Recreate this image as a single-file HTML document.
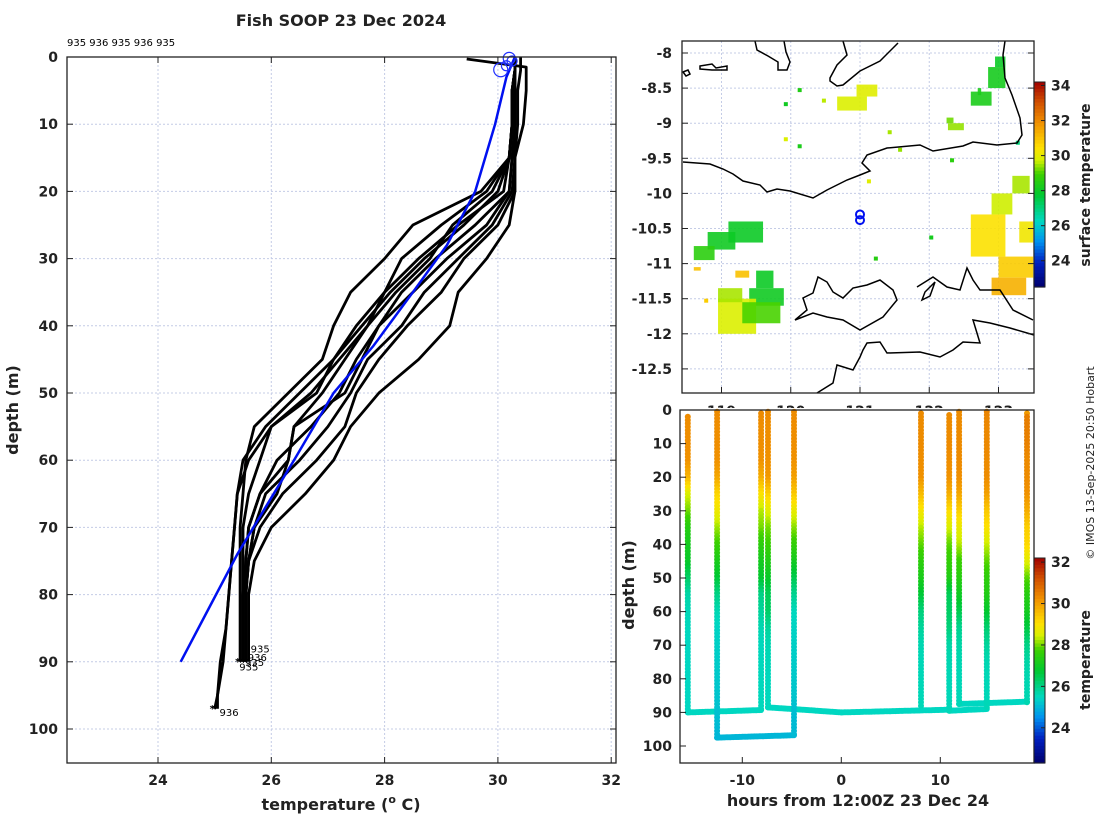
<!DOCTYPE html>
<html><head><meta charset="utf-8"><style>
html,body{margin:0;padding:0;background:#fff;}
svg{display:block;font-family:"DejaVu Sans","Liberation Sans",sans-serif;}
.tk{font-size:14px;font-weight:bold;fill:#222;}
.lb{font-size:16px;font-weight:bold;fill:#222;}
</style></head><body>
<svg id="fig" width="1100" height="820" viewBox="0 0 1100 820">
<g id="left"></g><g id="map"></g><g id="bot"></g><g id="cbars"></g>
</svg>
<script>
// ---------- DATA ----------
const depthsStd = [0,2,5,10,15,20,25,30,35,40,45,50,55,60,65,70,75,80,85,90];
const depthsDeep = [0,2,5,10,15,20,25,30,35,40,45,50,55,60,65,70,75,80,85,90,95,97];
const depthsP8 = [0.3,1.5,5,10,15,20,25,30,35,40,45,50,55,60,65,70,75,80,85,90];
const prof1 = [30.3,30.3,30.25,30.25,30.2,29.7,28.5,28.0,27.4,27.1,26.9,26.3,25.7,25.55,25.5,25.45,25.45,25.45,25.45,25.45];
const prof2 = [30.3,30.3,30.25,30.25,30.2,29.8,29.0,28.3,28.0,27.5,27.1,26.8,26.0,25.8,25.6,25.5,25.5,25.5,25.5,25.5];
const prof3 = [30.3,30.3,30.25,30.25,30.2,30.1,29.3,28.6,28.0,27.7,27.3,26.9,26.4,26.3,25.8,25.6,25.55,25.5,25.5,25.5];
const prof4 = [30.3,30.3,30.3,30.3,30.25,30.2,29.6,28.9,28.3,27.9,27.5,27.2,26.7,26.1,25.8,25.6,25.55,25.55,25.55,25.55];
const prof5 = [30.3,30.3,30.3,30.3,30.25,30.2,29.8,29.1,28.5,27.9,27.6,27.3,26.4,26.3,26.1,25.7,25.6,25.55,25.55,25.55];
const prof6 = [30.3,30.3,30.3,30.3,30.3,30.25,29.9,29.3,28.7,28.3,27.7,27.4,27.0,26.5,25.9,25.7,25.6,25.55,25.55,25.55];
const prof7 = [30.4,30.4,30.35,30.35,30.3,30.3,30.0,29.4,29.0,28.4,27.9,27.5,27.3,26.8,26.2,25.8,25.6,25.55,25.55,25.55];
const prof8 = [29.45,30.5,30.5,30.45,30.3,30.3,30.2,29.8,29.3,29.15,28.6,27.9,27.4,27.1,26.6,26.0,25.7,25.6,25.6,25.6];
const prof9 = [30.3,30.3,30.25,30.25,30.2,29.9,29.2,28.8,28.2,27.7,27.2,26.7,26.0,25.6,25.4,25.35,25.3,25.25,25.2,25.15,25.05,25.0];
const prof10 = [30.3,30.3,30.25,30.25,30.2,30.0,29.4,28.7,28.1,27.6,27.1,26.5,25.9,25.5,25.4,25.35,25.3,25.25,25.2,25.1,25.05,25.05];
const modelDepth = [0,3,10,20,28,35,43,50,60,67,74,82,90];
const modelTemp = [30.3,30.15,29.95,29.6,29.1,28.5,27.8,27.1,26.4,25.9,25.4,24.9,24.4];
const xTicks = [24,26,28,30,32];
const yTicks = [0,10,20,30,40,50,60,70,80,90,100];
const endLabels = ["935","936","935","935","936"];
const endLabelT = [25.6,25.55,25.5,25.4,25.05];
const endLabelD = [88,89.3,90,90.7,97.5];
// map
const lonTicks = [119,120,121,122,123];
const latTicks = [-8,-8.5,-9,-9.5,-10,-10.5,-11,-11.5,-12,-12.5];
const sstBlobs = [ // lon0, lat0, lon1, lat1, temp
 [120.67,-8.62,121.1,-8.82,29.8],[120.95,-8.45,121.25,-8.62,29.9],[122.27,-9.0,122.5,-9.1,29.4],
 [122.25,-8.92,122.35,-9.0,29.2],[122.6,-8.55,122.9,-8.75,28.3],[122.85,-8.2,123.1,-8.5,28.2],
 [122.95,-8.05,123.1,-8.2,28.0],[122.7,-8.5,122.75,-8.6,28.3],
 [118.8,-10.55,119.2,-10.8,28.1],[119.1,-10.4,119.6,-10.7,28.0],[118.6,-10.75,118.9,-10.95,28.6],
 [119.4,-11.35,119.9,-11.6,28.1],[119.5,-11.1,119.75,-11.35,28.0],
 [118.95,-11.5,119.5,-12.0,29.8],[119.3,-11.55,119.85,-11.85,29.0],[118.95,-11.35,119.3,-11.55,29.5],
 [119.2,-11.1,119.4,-11.2,31.0],[118.6,-11.05,118.7,-11.1,31.0],
 [122.6,-10.3,123.1,-10.9,30.4],[122.9,-10.0,123.2,-10.3,29.7],[123.0,-10.9,123.5,-11.2,30.8],
 [122.9,-11.2,123.4,-11.45,31.3],[123.2,-9.75,123.45,-10.0,29.5],[123.3,-10.4,123.5,-10.7,30.2]
];
const sstSpecks = [[120.1,-8.5,28.4],[119.9,-8.7,28.1],[120.45,-8.65,29.6],[121.4,-9.1,29.5],[121.55,-9.35,29.4],[119.9,-9.2,29.8],[120.1,-9.3,28.3],[121.1,-9.8,29.9],[122.0,-10.6,28.2],[121.2,-10.9,28.5],[122.3,-9.5,28.6],[123.25,-9.25,27.0],[118.75,-11.5,30.8]];
const shipLon = [121.0,121.0]; const shipLat = [-10.3,-10.38];
// bottom
const castHours = [-15.5,-12.55,-8.1,-7.4,-4.78,8.05,10.9,11.9,14.7,18.76];
const castTop = [2,0.5,1,0.5,0.5,1,1.5,0.5,0.5,1];
const castMax = [90,97.5,89.5,88.5,97,88.5,89.5,87.5,88.5,87];
const castProf = [0,8,1,2,9,3,4,5,6,7];
const segH0 = [-15.5,-12.55,-7.4,0,10.9,11.9];
const segD0 = [90,97.5,88.5,90,89.5,87.5];
const segH1 = [-8.1,-4.78,0,10.9,14.7,18.76];
const segD1 = [89.3,96.8,90,89.2,89,86.8];
const hourTicks = [-10,0,10];
const botDepthTicks = [0,10,20,30,40,50,60,70,80,90,100];
const cb1Ticks = [24,26,28,30,32,34];
const cb2Ticks = [24,26,28,30,32];

// ---------- helpers ----------
const NS="http://www.w3.org/2000/svg";
function mk(parent,tag,attrs,text){const e=document.createElementNS(NS,tag);for(const k in attrs)e.setAttribute(k,attrs[k]);if(text!==undefined)e.textContent=text;parent.appendChild(e);return e;}
const stops=[[0,[0,0,110]],[0.12,[0,32,192]],[0.22,[0,144,240]],[0.32,[0,216,192]],[0.45,[0,200,48]],[0.55,[60,208,0]],[0.62,[216,240,0]],[0.68,[255,224,0]],[0.8,[240,144,0]],[0.9,[208,80,0]],[1,[160,0,0]]];
function cmap(t,lo,hi){let f=(t-lo)/(hi-lo);f=Math.max(0,Math.min(1,f));for(let i=1;i<stops.length;i++){if(f<=stops[i][0]){const a=stops[i-1],b=stops[i];const u=(f-a[0])/(b[0]-a[0]);const c=a[1].map((v,j)=>Math.round(v+(b[1][j]-v)*u));return`rgb(${c})`;}}return'rgb(160,0,0)';}
function interp(xs,ys,x){if(x<=xs[0])return ys[0];for(let i=1;i<xs.length;i++){if(x<=xs[i]){const u=(x-xs[i-1])/(xs[i]-xs[i-1]);return ys[i-1]+(ys[i]-ys[i-1])*u;}}return ys[ys.length-1];}
const profiles=[prof1,prof2,prof3,prof4,prof5,prof6,prof7,prof8,prof9,prof10];
const profDepths=[depthsStd,depthsStd,depthsStd,depthsStd,depthsStd,depthsStd,depthsStd,depthsP8,depthsDeep,depthsDeep];

// ---------- LEFT PLOT ----------
const L=document.getElementById('left');
const lx=t=>158+(t-24)*56.65, ly=d=>57+d*6.72;
const LX0=67,LX1=616,LY0=57,LY1=763;
mk(L,'text',{x:341,y:26,'text-anchor':'middle','class':'lb',},'Fish SOOP 23 Dec 2024');
mk(L,'text',{x:67,y:46,'font-size':10,fill:'#000',},'935 936 935 936 935');
const lg=mk(L,'g',{});
xTicks.forEach(t=>{mk(lg,'line',{x1:lx(t),x2:lx(t),y1:LY0,y2:LY1,stroke:'#c4cce6','stroke-width':1,'stroke-dasharray':'2,2'});});
yTicks.forEach(d=>{mk(lg,'line',{x1:LX0,x2:LX1,y1:ly(d),y2:ly(d),stroke:'#c4cce6','stroke-width':1,'stroke-dasharray':'2,2'});});
const lp=mk(L,'g',{});
profiles.forEach((p,i)=>{const ds=profDepths[i];const pts=p.map((t,j)=>lx(t).toFixed(1)+','+ly(ds[j]).toFixed(1)).join(' ');
 const pl=mk(lp,'polyline',{points:pts,fill:'none',stroke:'#000','stroke-width':2.8,'stroke-linejoin':'round'});
 
 
 const last=p.length-1;mk(lp,'text',{x:lx(p[last])-5,y:ly(ds[last])+3,'font-size':10,'font-weight':'bold',fill:'#000'},'*');});
const mpts=modelTemp.map((t,j)=>lx(t).toFixed(1)+','+ly(modelDepth[j]).toFixed(1)).join(' ');
mk(L,'polyline',{points:mpts,fill:'none',stroke:'#0010f0','stroke-width':2.5,});
[[30.2,0.2,6],[30.25,0.6,5],[30.05,1.9,7],[30.15,1.3,5]].forEach(c=>{mk(L,'circle',{cx:lx(c[0]),cy:ly(c[1]),r:c[2],fill:'none',stroke:'#2030ff','stroke-width':1.2,});});
endLabels.forEach((s,i)=>{mk(L,'text',{x:lx(endLabelT[i])+2,y:ly(endLabelD[i])+4,'font-size':10,fill:'#000',},s);});
mk(L,'rect',{x:LX0,y:LY0,width:LX1-LX0,height:LY1-LY0,fill:'none',stroke:'#222','stroke-width':1.3,});
xTicks.forEach(t=>{mk(L,'line',{x1:lx(t),x2:lx(t),y1:LY1,y2:LY1-6,stroke:'#222'});mk(L,'line',{x1:lx(t),x2:lx(t),y1:LY0,y2:LY0+6,stroke:'#222'});
 mk(L,'text',{x:lx(t),y:785,'text-anchor':'middle','class':'tk',},String(t));});
yTicks.forEach(d=>{mk(L,'line',{x1:LX0,x2:LX0+6,y1:ly(d),y2:ly(d),stroke:'#222'});mk(L,'line',{x1:LX1,x2:LX1-6,y1:ly(d),y2:ly(d),stroke:'#222'});
 mk(L,'text',{x:58,y:ly(d)+5,'text-anchor':'end','class':'tk',},String(d));});
const xl=mk(L,'text',{x:341,y:810,'text-anchor':'middle','class':'lb',});
xl.innerHTML='temperature (<tspan dy="-7" font-size="11">o</tspan><tspan dy="7"> C)</tspan>';
mk(L,'text',{x:0,y:0,transform:'translate(18,410) rotate(-90)','text-anchor':'middle','class':'lb',},'depth (m)');

// ---------- MAP ----------
const M=document.getElementById('map');
const mx=lon=>860+(lon-121)*69.25, my=lat=>53+(-8-lat)*70.2;
const MX0=682,MX1=1034,MY0=41,MY1=393;
const mg=mk(M,'g',{});
lonTicks.forEach(l=>mk(mg,'line',{x1:mx(l),x2:mx(l),y1:MY0,y2:MY1,stroke:'#c4cce6','stroke-dasharray':'2,2'}));
latTicks.forEach(l=>mk(mg,'line',{x1:MX0,x2:MX1,y1:my(l),y2:my(l),stroke:'#c4cce6','stroke-dasharray':'2,2'}));
const sg=mk(M,'g',{});
sstBlobs.forEach(b=>{const r=mk(sg,'rect',{x:mx(b[0]),y:my(b[1]),width:mx(b[2])-mx(b[0]),height:my(b[3])-my(b[1]),fill:cmap(b[4],22.5,34.2),opacity:0.9});
 
 });
sstSpecks.forEach(s=>{mk(sg,'rect',{x:mx(s[0]),y:my(s[1]),width:4,height:4,fill:cmap(s[2],22.5,34.2)});});
const coasts=[
 "M683,162 L710,164 723,169 733,174 743,181 760,185 767,192 777,189 790,191 813,198 827,190 847,180 860,175 870,171 862,163 867,155 887,148 920,145 933,151 963,146 973,142 997,145 1017,143 1022,135 1020,118 1012,95 1005,78 1003,55 1005,41",
 "M755,41 L757,50 768,56 778,62 778,70 787,70 790,62 786,52 784,41",
 "M843,41 L847,55 837,65 830,78 830,81 837,86 843,85 860,71 880,61 898,43",
 "M700,66 L712,64 716,68 727,66 727,70 712,70 700,69 Z",
 "M683,72 L688,70 690,74 686,76 Z",
 "M795,320 L807,310 803,298 813,293 818,277 827,282 833,292 843,298 853,288 867,285 880,280 893,290 897,300 883,317 860,330 843,320 827,317 813,313 Z",
 "M917,287 L933,277 947,287 960,290 967,268 973,280 980,290 1000,290 1013,310 1033,320",
 "M1034,335 L1010,328 990,323 973,320 980,343 963,342 953,350 940,357 920,352 887,353 880,342 867,343 863,350 860,357 853,370 837,365 833,383 817,393",
 "M935,282 L925,292 922,300 930,296 Z"
];
coasts.forEach(d=>{const p=mk(M,'path',{d:d,fill:'none',stroke:'#000','stroke-width':1.5});
 
 });
shipLon.forEach((l,i)=>{mk(M,'circle',{cx:mx(l),cy:my(shipLat[i]),r:4,fill:'none',stroke:'#0010f0','stroke-width':2,});});
mk(M,'rect',{x:MX0,y:MY0,width:MX1-MX0,height:MY1-MY0,fill:'none',stroke:'#222','stroke-width':1.3,});
latTicks.forEach(l=>{mk(M,'line',{x1:MX0,x2:MX0+6,y1:my(l),y2:my(l),stroke:'#222'});mk(M,'line',{x1:MX1,x2:MX1-6,y1:my(l),y2:my(l),stroke:'#222'});
 mk(M,'text',{x:672,y:my(l)+5,'text-anchor':'end','class':'tk',},String(l));});
lonTicks.forEach(l=>{mk(M,'line',{x1:mx(l),x2:mx(l),y1:MY1,y2:MY1-6,stroke:'#222'});
 mk(M,'text',{x:mx(l),y:416,'text-anchor':'middle','class':'tk',},String(l));});

// ---------- BOTTOM ----------
const B=document.getElementById('bot');
const bx=h=>841.3+h*9.9, by=d=>410+d*3.36;
const BX0=680,BX1=1034,BY0=410,BY1=763;
mk(B,'rect',{x:BX0,y:BY0-2,width:BX1-BX0,height:BY1-BY0+2,fill:'#fff',});
const dg=mk(B,'g',{});
function dot(x,y,c){const e=mk(dg,'circle',{cx:x.toFixed(1),cy:y.toFixed(1),r:3,fill:c});}
function profT(pi,d){return interp(profDepths[pi],profiles[pi],d);}
segH0.forEach((h0,i)=>{const h1=segH1[i],d0=segD0[i],d1=segD1[i];const n=Math.max(2,Math.round(Math.abs(bx(h1)-bx(h0))/1.5));
 for(let k=0;k<=n;k++){const u=k/n;const d=d0+(d1-d0)*u;dot(bx(h0+(h1-h0)*u),by(d),cmap(d>95?25.0:25.45,22.3,32.2));}});
castHours.forEach((h,i)=>{for(let d=castTop[i];d<=castMax[i];d+=1){dot(bx(h),by(d),cmap(profT(castProf[i],d),22.3,32.2));}});
mk(B,'rect',{x:BX0,y:BY0,width:BX1-BX0,height:BY1-BY0,fill:'none',stroke:'#222','stroke-width':1.3,});
hourTicks.forEach(h=>{mk(B,'line',{x1:bx(h),x2:bx(h),y1:BY1,y2:BY1-6,stroke:'#222'});
 mk(B,'text',{x:bx(h),y:785,'text-anchor':'middle','class':'tk',},String(h));});
botDepthTicks.forEach(d=>{mk(B,'line',{x1:BX0,x2:BX0+6,y1:by(d),y2:by(d),stroke:'#222'});
 mk(B,'text',{x:672,y:by(d)+5,'text-anchor':'end','class':'tk',},String(d));});
mk(B,'text',{x:858,y:806,'text-anchor':'middle','class':'lb',},'hours from 12:00Z 23 Dec 24');
mk(B,'text',{x:0,y:0,transform:'translate(634,585) rotate(-90)','text-anchor':'middle','class':'lb',},'depth (m)');

// ---------- COLORBARS ----------
const C=document.getElementById('cbars');
function colorbar(x,y0,y1,lo,hi,ticks,label,name,lcy){
 const g=mk(C,'g',{});
 const n=60;const h=(y1-y0)/n;
 for(let i=0;i<n;i++){const v=hi-(i+0.5)/n*(hi-lo);mk(g,'rect',{x:x,y:(y0+i*h).toFixed(2),width:11,height:(h+0.6).toFixed(2),fill:cmap(v,lo,hi)});}
 mk(g,'rect',{x:x,y:y0,width:11,height:y1-y0,fill:'none',stroke:'#222'});
 const ty=v=>y1-(v-lo)/(hi-lo)*(y1-y0);
 ticks.forEach(t=>{mk(g,'line',{x1:x+11,x2:x+7,y1:ty(t),y2:ty(t),stroke:'#222'});mk(g,'text',{x:x+17,y:ty(t)+5,'class':'tk'},String(t));});
 mk(g,'text',{x:0,y:0,transform:`translate(1090,${lcy}) rotate(-90)`,'text-anchor':'middle','font-size':14,'font-weight':'bold',fill:'#222'},label);
}
colorbar(1034,82,287,22.5,34.2,cb1Ticks,'surface temperature','sst-colorbar',185);
colorbar(1034,558,763,22.3,32.2,cb2Ticks,'temperature','temperature-colorbar',660);
mk(C,'text',{x:0,y:0,transform:'translate(1094,463) rotate(-90)','text-anchor':'middle','font-size':11,fill:'#222',},'© IMOS 13-Sep-2025 20:50 Hobart');
</script>
</body></html>
